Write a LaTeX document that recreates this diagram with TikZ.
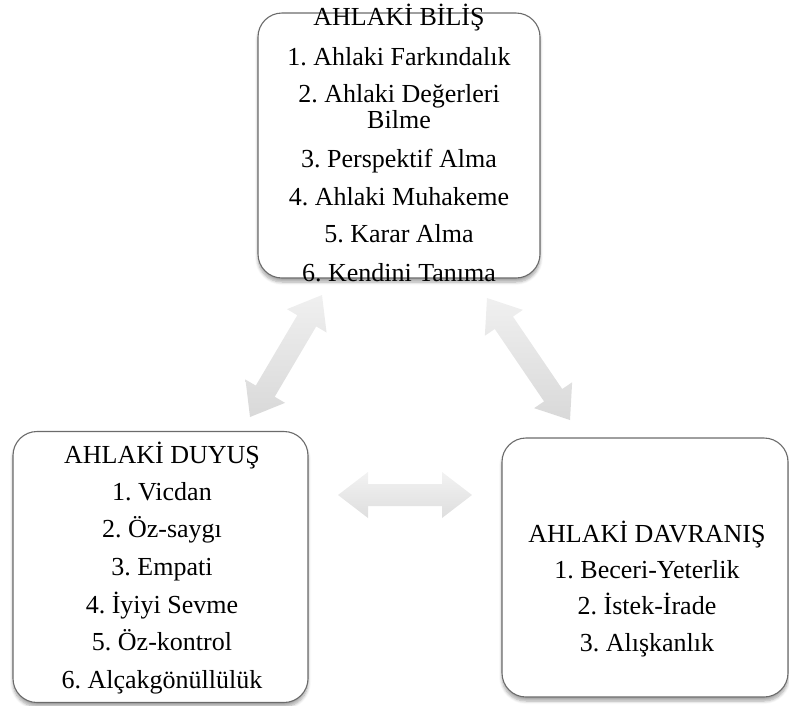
\documentclass[tikz,border=0pt]{standalone}
\usepackage{fontspec}
\setmainfont{Liberation Serif}
\frenchspacing
\usetikzlibrary{calc,shadows.blur}
\newcommand\dblarr[5]{% name, tip a, tip b, shade start, shade end
  \coordinate (#1a) at #2;
  \coordinate (#1b) at #3;
  \coordinate (#1ha) at ($(#1a)!30pt!(#1b)$);
  \coordinate (#1hb) at ($(#1b)!30pt!(#1a)$);
  \path[arrowfill, top color=#4, bottom color=#5]
    (#1a) -- ($(#1ha)!23pt!90:(#1b)$) -- ($(#1ha)!11pt!90:(#1b)$)
    -- ($(#1hb)!11pt!-90:(#1a)$) -- ($(#1hb)!23pt!-90:(#1a)$) -- (#1b)
    -- ($(#1hb)!23pt!90:(#1a)$) -- ($(#1hb)!11pt!90:(#1a)$)
    -- ($(#1ha)!11pt!-90:(#1b)$) -- ($(#1ha)!23pt!-90:(#1b)$) -- cycle;
}
\begin{document}
\begin{tikzpicture}[x=1pt,y=-1pt,
  box/.style={draw=black!58, line width=1.1pt, fill=white, rounded corners=24pt,
    inner sep=0pt,
    blur shadow={shadow xshift=0pt, shadow yshift=-4pt, shadow opacity=35, shadow blur steps=6, shadow blur radius=3pt}},
  txt/.style={anchor=base, inner sep=0pt, font=\fontsize{26}{26}\selectfont},
  arrowfill/.style={draw=none}
]
\useasboundingbox (0,0) rectangle (789,705);
% boxes
\node[box, minimum width=282pt, minimum height=265pt] (bilis) at (399,145.5) {};
\node[box, minimum width=295pt, minimum height=271pt] (duyus) at (160.5,567) {};
\node[box, minimum width=286pt, minimum height=259pt] (davranis) at (645,567.5) {};
% arrows
\dblarr{la}{(250,417)}{(322,295)}{black!6}{black!15}
\dblarr{ra}{(487,298)}{(570,420)}{black!6}{black!15}
\dblarr{ha}{(338,495)}{(472,495)}{black!5}{black!13}
% top box text
\node[txt] (b0) at (399,25) {AHLAKİ BİLİŞ};
\node[txt] (b1) at (399,65) {1. Ahlaki Farkındalık};
\node[txt] (b2) at (399,102) {2. Ahlaki Değerleri};
\node[txt] (b2b) at (399,128) {Bilme};
\node[txt] (b3) at (399,167) {3. Perspektif Alma};
\node[txt] (b4) at (399,205) {4. Ahlaki Muhakeme};
\node[txt] (b5) at (399,242) {5. Karar Alma};
\node[txt] (b6) at (399,281) {6. Kendini Tanıma};
% left box text
\node[txt] (d0) at (162,463) {AHLAKİ DUYUŞ};
\node[txt] (d1) at (162,500) {1. Vicdan};
\node[txt] (d2) at (162,537) {2. Öz-saygı};
\node[txt] (d3) at (162,575) {3. Empati};
\node[txt] (d4) at (162,613) {4. İyiyi Sevme};
\node[txt] (d5) at (162,650) {5. Öz-kontrol};
\node[txt] (d6) at (162,688) {6. Alçakgönüllülük};
% right box text
\node[txt] (v0) at (647,542) {AHLAKİ DAVRANIŞ};
\node[txt] (v1) at (647,578) {1. Beceri-Yeterlik};
\node[txt] (v2) at (647,614) {2. İstek-İrade};
\node[txt] (v3) at (647,651) {3. Alışkanlık};
\end{tikzpicture}
\end{document}
